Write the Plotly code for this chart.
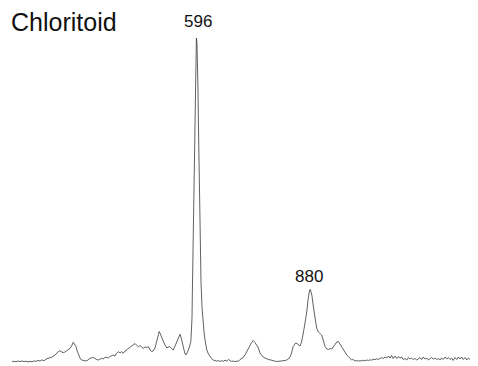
import plotly.graph_objects as go

# Raman shift (cm^-1) and intensity (a.u.)
wavenumber = [
    135, 140, 145, 150, 155, 160, 165, 170, 175, 180, 185, 190, 195, 200, 205, 210, 215, 220, 225,
    232, 237.5, 242.5, 247.5, 253, 257.5, 263, 267.5, 272, 276, 280, 284, 288, 291, 295, 298, 301,
    305, 309, 315, 320, 325, 330, 335, 338, 342.5, 346, 351, 355, 359, 362.5, 367.5, 372, 376, 380,
    384, 388, 392.5, 396, 401, 405, 409, 413, 417.5, 421, 426, 430, 434, 438, 442.5, 446, 451, 455,
    459, 463, 467.5, 472, 476, 480, 484, 488, 492.5, 496, 499, 501, 503, 506, 509, 513, 517.5, 522,
    525, 530, 534, 538, 542.5, 547, 551, 555, 558, 561, 564, 567.5, 570, 573, 576, 579, 582, 583,
    585, 586, 587.5, 589, 590, 591, 592.5, 594, 595, 596, 597.5, 599, 600, 601, 602.5, 604, 605,
    606, 607.5, 610, 612.5, 615, 617.5, 622, 626, 630, 634, 638, 642.5, 647, 651, 655, 659, 663,
    667.5, 672, 676, 680, 684, 688, 692.5, 697, 701, 705, 709, 713, 717.5, 722, 726, 730, 734, 738,
    742.5, 747, 751, 755, 759, 763, 767.5, 772, 776, 780, 784, 788, 792.5, 797, 801, 805, 809, 813,
    817.5, 822, 826, 830, 834, 837.5, 841, 844, 847.5, 851, 855, 859, 862.5, 865, 867.5, 870, 872.5,
    875, 877, 879, 881, 883, 885, 887.5, 890, 892.5, 895, 897.5, 901, 905, 909, 913, 917.5, 922, 926,
    930, 934, 938, 942.5, 947, 951, 955, 959, 963, 967.5, 972, 976, 980, 984, 988, 992.5, 997, 1001,
    1005, 1009, 1013, 1017.5, 1022, 1026, 1030, 1034, 1038, 1042.5, 1047, 1051, 1055, 1059, 1063,
    1067.5, 1072, 1076, 1080, 1084, 1088, 1092.5, 1097, 1101, 1105, 1109, 1113, 1117.5, 1122, 1126,
    1130, 1134, 1138, 1142.5, 1147, 1151, 1155, 1159, 1163, 1167.5, 1172, 1176, 1180, 1184, 1188,
    1192.5, 1197, 1201, 1205, 1209, 1213, 1217.5, 1222, 1226, 1230, 1234, 1238, 1242.5, 1247, 1251,
    1255, 1259, 1263, 1267.5, 1272, 1276, 1280, 1284, 1288, 1292.5,
]
intensity = [
    0.0, 0.8, 0.2, 1.0, 0.4, 1.1, 0.3, 0.9, 0.0, 0.7, 0.2, 1.2, 0.5, 1.6, 1.0, 2.2, 1.2, 3.0, 3.5,
    4.5, 5.5, 7, 9, 11.3, 10.5, 9.3, 10, 11.3, 12.5, 13.7, 16, 19.7, 18, 15.3, 11, 7,
    4, 2, 1.2, 1, 2, 3.7, 4.2, 4.7, 3.5, 2.5, 2, 3, 3.7, 3, 4.5, 4.7, 4, 5.5,
    6.5, 7, 6, 8.5, 10.3, 9, 10.5, 8.7, 11, 12, 13.7, 14.5, 16, 17, 18.5, 17, 15.3, 16.5,
    15, 13.7, 15, 14.5, 15.3, 12, 10.5, 11, 14, 20, 26, 29.5, 30.5, 28, 24, 21, 17, 14,
    15, 15.3, 13.5, 12, 16, 20.3, 25, 27.7, 24, 18.7, 12, 8, 7, 9, 12, 16, 20.3, 27,
    44, 72, 110, 152, 190, 222, 262, 290, 312, 324, 318, 302, 272, 240, 205, 170, 135,
    102, 80, 55, 40, 30, 22, 12, 8, 5.5, 3.5, 2, 1.5, 0.8, 1.5, 0.5, 1.2, 0.7,
    1.8, 1, 2.5, 1.2, 0.5, 1, 0.3, 1, 0.7, 2.5, 3.5, 4.5, 7, 10, 13, 16.5, 19.5, 21.5,
    19.5, 16.5, 14, 9, 6.5, 5, 4, 3, 2.5, 2.2, 1.5, 1.2, 0.8, 0.5, 0.7, 0.3, 0.5, 0.8,
    1.5, 2, 3, 5, 9, 15.3, 17.5, 19, 18.5, 17, 16, 20, 26, 33, 39, 45, 52,
    62, 68, 72, 72.5, 70, 66, 58, 50, 44, 38, 33, 30, 28.5, 27, 22, 15.5, 13, 12.5,
    13.5, 13, 15, 18, 20, 20.5, 18, 15, 12, 10, 7, 5.5, 4, 2, 2.5, 1, 1.5, 0.8,
    1.5, 1, 1.8, 1.2, 2, 1.5, 2.2, 1.8, 2.8, 2.3, 3.2, 2.5, 3.8, 4.2, 3.5,
    5, 4, 6, 4, 6.5, 3.5, 6, 3.5, 5.5, 4, 5, 2.5, 3.5, 2, 4.5,
    3, 4, 2.5, 3.5, 2, 3, 4.5, 2.5, 5, 3, 4, 2, 3, 4.5, 3,
    4, 2.5, 3.5, 2, 4, 2.5, 5, 3, 4.5, 2.5, 4, 1.5, 4.5, 2.5, 5,
    3, 5, 2.5, 4.5, 2, 4, 2.5, 3.5, 1.5, 3,
]

title_text = "Chloritoid"
peak_labels = ["596", "880"]
peak_label_pos = [600, 877.5]
peak_label_height = [341, 86]

fig = go.Figure()
fig.add_trace(go.Scatter(
    x=wavenumber, y=intensity, mode="lines",
    line=dict(color="#3a3a3a", width=0.8),
    hoverinfo="skip", showlegend=False,
))

for lbl, px, py in zip(peak_labels, peak_label_pos, peak_label_height):
    fig.add_annotation(x=px, y=py, xref="x", yref="y", text=lbl, showarrow=False,
                       font=dict(family="Liberation Sans, Arial", size=17, color="#111"),
                       xanchor="center", yanchor="middle")

fig.add_annotation(x=127.5, y=340, xref="x", yref="y", text=title_text, showarrow=False,
                   font=dict(family="Liberation Sans, Arial", size=25, color="#111"),
                   xanchor="left", yanchor="middle")

# page has an 8px body margin, so the figure is sized to fill the rest of the window
fig.update_xaxes(range=[125, 1300], visible=False)
fig.update_yaxes(range=[-4, 354], visible=False)
fig.update_layout(
    width=470, height=358,
    margin=dict(l=0, r=0, t=0, b=0),
    plot_bgcolor="white", paper_bgcolor="white",
)
fig.write_html("out.html")
